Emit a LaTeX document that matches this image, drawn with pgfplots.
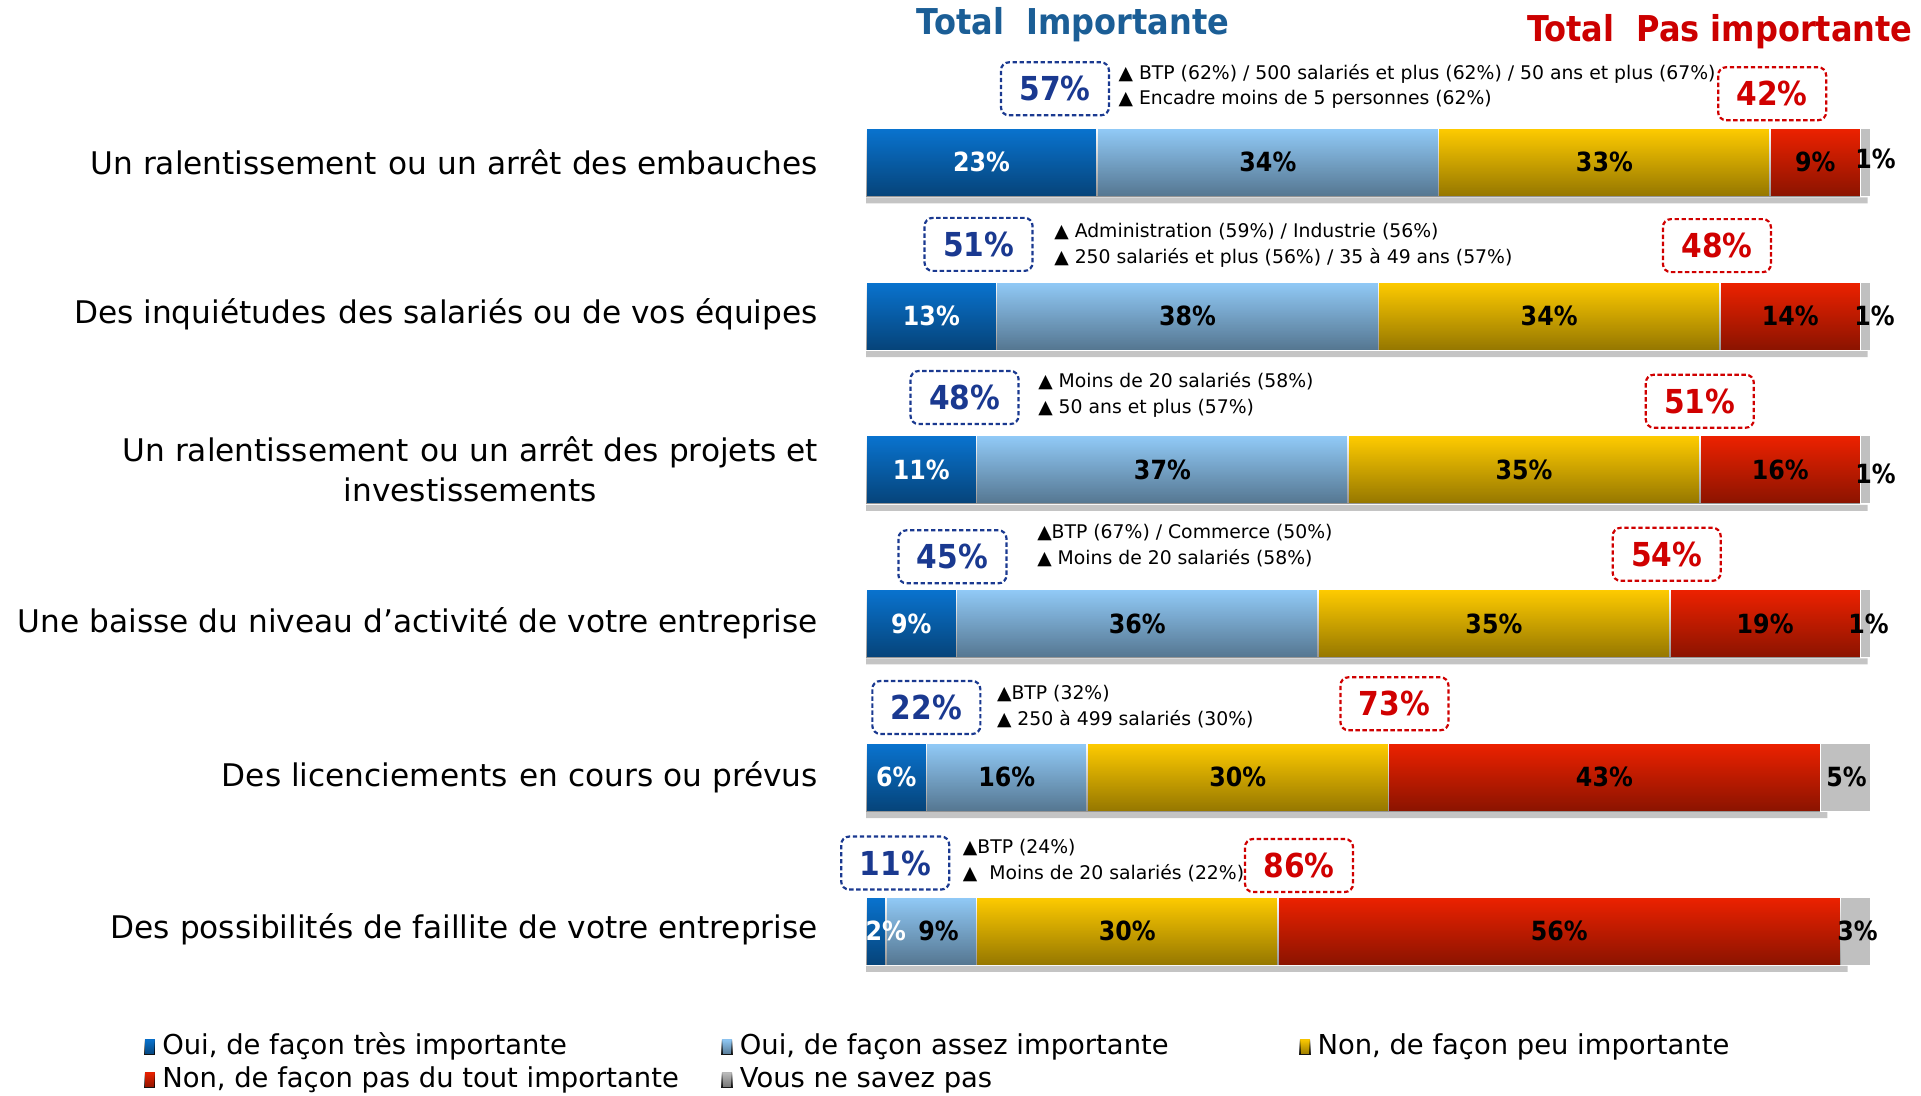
\documentclass[border=0pt]{standalone}
\usepackage{pgfplots}
\pgfplotsset{compat=1.18}
\usetikzlibrary{fadings}
\usepackage{fontspec}
\setmainfont{DejaVu Sans}
\newfontfamily\cond{DejaVu Sans Condensed}
\newcommand\tri{▲}

\definecolor{dblueT}{HTML}{0A74D0}
\definecolor{lblueT}{HTML}{92CBF8}
\definecolor{yelT}{HTML}{FFCC00}
\definecolor{redT}{HTML}{EE2200}
\definecolor{nsp}{HTML}{C0C0C0}
\definecolor{shadow}{HTML}{C4C4C4}
\definecolor{titleblue}{HTML}{1B5E96}
\definecolor{titlered}{HTML}{CC0000}
\definecolor{boxblue}{HTML}{1A3990}
\definecolor{boxred}{HTML}{D00000}

\begin{document}
\begin{tikzpicture}
\pgfplotsset{
  base/.style={width=960.5pt, height=548pt, scale only axis,
    xmin=-86.22, xmax=105.02, ymin=-0.0557, ymax=7.0733, y dir=reverse,
    hide axis, clip=false},
  shade/.style={xbar, bar width=34.3pt, draw=none, fill=black, fill opacity=0.42, path fading=north},
}
\tikzset{
  tot/.style={dash pattern=on 2.2pt off 1.3pt, line width=1.1pt, rounded corners=4pt,
    minimum width=54pt, minimum height=26.5pt, inner sep=0pt,
    font=\cond\fontsize{16.5}{18}\selectfont\bfseries},
  bt/.style={tot, draw=boxblue, text=boxblue},
  rt/.style={tot, draw=boxred, text=boxred},
  note/.style={anchor=west, align=left, inner sep=0pt, font=\fontsize{9.4}{12.9}\selectfont},
  lab/.style={anchor=east, align=center, inner sep=0pt, font=\fontsize{15.6}{19.6}\selectfont},
}

% stacked bars
\begin{axis}[base, name=main, xbar stacked, bar width=34.3pt,
  legend columns=3,
  legend style={at={(0.0746,0.0297)}, anchor=west, draw=none, fill=none, inner sep=0pt,
    font=\fontsize{13.7}{16}\selectfont, row sep=0pt,
    nodes={inner sep=1.5pt, text height=10.5pt, text depth=3pt},
    /tikz/every even column/.style={column sep=0pt}},
  legend image code/.code={\fill[#1, draw=none] (0pt,-3.75pt) rectangle (5pt,3.75pt);
    \fill[black, fill opacity=0.42, path fading=north] (0pt,-3.75pt) rectangle (5pt,3.75pt);},
]
\addplot[draw=white, line width=0.8pt, fill=dblueT]
  coordinates {(23,1) (13,2) (11,3) (9,4) (6,5) (2,6)};
\addlegendentry{\makebox[280pt][l]{\hspace{2pt}Oui, de façon très importante}}
\addplot[draw=white, line width=0.8pt, fill=lblueT]
  coordinates {(34,1) (38,2) (37,3) (36,4) (16,5) (9,6)};
\addlegendentry{\makebox[280pt][l]{\hspace{2pt}Oui, de façon assez importante}}
\addplot[draw=white, line width=0.8pt, fill=yelT]
  coordinates {(33,1) (34,2) (35,3) (35,4) (30,5) (30,6)};
\addlegendentry{\makebox[280pt][l]{\hspace{2pt}Non, de façon peu importante}}
\addplot[draw=white, line width=0.8pt, fill=redT]
  coordinates {(9,1) (14,2) (16,3) (19,4) (43,5) (56,6)};
\addlegendentry{\makebox[280pt][l]{\hspace{2pt}Non, de façon pas du tout importante}}
\addplot[draw=white, line width=0.8pt, fill=nsp]
  coordinates {(1,1) (1,2) (1,3) (1,4) (5,5) (3,6)};
\addlegendentry{\makebox[280pt][l]{\hspace{2pt}Vous ne savez pas}}
\end{axis}

% shadows, shading, values and annotations
\begin{axis}[base]
\addplot[xbar, bar width=3pt, fill=shadow, draw=none]
  coordinates {(99.7,1.247) (99.7,2.247) (99.7,3.247) (99.7,4.247) (95.7,5.247) (97.7,6.247)};
% darker lower half of each bar (one plot per row)
\addplot[shade] coordinates {(99,1)};
\addplot[shade] coordinates {(99,2)};
\addplot[shade] coordinates {(99,3)};
\addplot[shade] coordinates {(99,4)};
\addplot[shade] coordinates {(95,5)};
\addplot[shade] coordinates {(97,6)};

\addplot[only marks, mark=none, point meta=explicit symbolic,
  nodes near coords={\pgfplotspointmeta\%}, nodes near coords align=center,
  every node near coord/.append style={anchor=center, text=white, inner sep=0pt,
    font=\cond\fontsize{13.2}{15}\selectfont\bfseries}]
  coordinates {(11.5,1)[23] (6.5,2)[13] (5.5,3)[11] (4.5,4)[9] (3,5)[6] (1.95,6)[2]};
\addplot[only marks, mark=none, point meta=explicit symbolic,
  nodes near coords={\pgfplotspointmeta\%}, nodes near coords align=center,
  every node near coord/.append style={anchor=center, text=black, inner sep=0pt,
    font=\cond\fontsize{13.2}{15}\selectfont\bfseries}]
  coordinates {
   (40,1)[34] (73.5,1)[33] (94.5,1)[9] (100.5,0.98)[1]
   (32,2)[38] (68,2)[34] (92,2)[14] (100.4,2)[1]
   (29.5,3)[37] (65.5,3)[35] (91,3)[16] (100.5,3.03)[1]
   (27,4)[36] (62.5,4)[35] (89.5,4)[19] (99.8,4)[1]
   (14,5)[16] (37,5)[30] (73.5,5)[43] (97.6,5)[5]
   (7.2,6)[9] (26,6)[30] (69,6)[56] (98.7,6)[3]};

\node[font=\cond\fontsize{17.8}{20}\selectfont\bfseries, text=titleblue] at (axis cs:20.6,0.104) {Total\ \ Importante};
\node[font=\cond\fontsize{17.8}{20}\selectfont\bfseries, text=titlered] at (axis cs:85.0,0.151) {Total\ \ Pas importante};

\node[bt] at (axis cs:18.8,0.522) {57\%};
\node[bt] at (axis cs:11.2,1.534) {51\%};
\node[bt] at (axis cs:9.8,2.530) {48\%};
\node[bt] at (axis cs:8.6,3.566) {45\%};
\node[bt] at (axis cs:6.0,4.546) {22\%};
\node[bt] at (axis cs:2.9,5.558) {11\%};
\node[rt] at (axis cs:90.2,0.554) {42\%};
\node[rt] at (axis cs:84.7,1.542) {48\%};
\node[rt] at (axis cs:83.0,2.554) {51\%};
\node[rt] at (axis cs:79.7,3.550) {54\%};
\node[rt] at (axis cs:52.6,4.522) {73\%};
\node[rt] at (axis cs:43.1,5.574) {86\%};

\node[note] at (axis cs:25.1,0.506) {\tri{} BTP (62\%) / 500 salariés et plus (62\%) / 50 ans et plus (67\%)\\\tri{} Encadre moins de 5 personnes (62\%)};
\node[note] at (axis cs:18.7,1.541) {\tri{} Administration (59\%) / Industrie (56\%)\\\tri{} 250 salariés et plus (56\%) / 35 à 49 ans (57\%)};
\node[note] at (axis cs:17.1,2.514) {\tri{} Moins de 20 salariés (58\%)\\\tri{} 50 ans et plus (57\%)};
\node[note] at (axis cs:17.0,3.494) {\tri{}BTP (67\%) / Commerce (50\%)\\\tri{} Moins de 20 salariés (58\%)};
\node[note] at (axis cs:13.0,4.538) {\tri{}BTP (32\%)\\\tri{} 250 à 499 salariés (30\%)};
\node[note] at (axis cs:9.6,5.541) {\tri{}BTP (24\%)\\\tri{}\ \ Moins de 20 salariés (22\%)};

\node[lab] at (axis cs:-4.76,1.0) {Un ralentissement\hspace{1pt} ou un arrêt des embauches};
\node[lab] at (axis cs:-4.76,1.99) {Des inquiétudes\hspace{1pt} des salariés ou de vos équipes};
\node[lab] at (axis cs:-4.76,2.996) {Un ralentissement\hspace{1pt} ou un arrêt des projets et\\investissements};
\node[lab] at (axis cs:-4.76,4.0) {Une baisse du niveau d'activité de votre entreprise};
\node[lab] at (axis cs:-4.76,5.0) {Des licenciements\hspace{1pt} en cours ou prévus};
\node[lab] at (axis cs:-4.76,5.99) {Des possibilités de faillite de votre entreprise};
\end{axis}

\pgfresetboundingbox
\path[use as bounding box] (main.south west) rectangle (main.north east);
\end{tikzpicture}
\end{document}
